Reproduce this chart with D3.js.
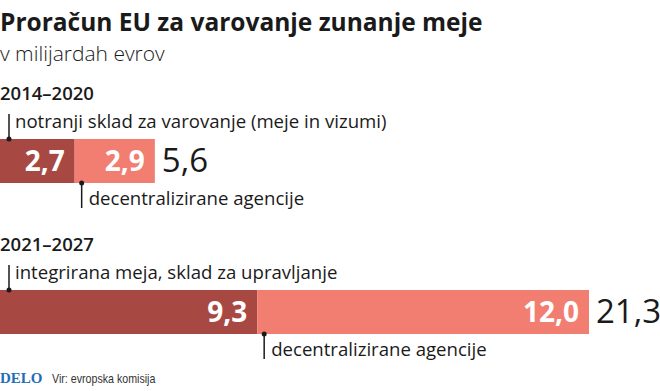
<!DOCTYPE html>
<html>
<head>
<meta charset="utf-8">
<script src="https://cdn.jsdelivr.net/npm/d3@7"></script>
<style>
  body { margin: 0; background: #fff; }
  text { font-family: "Open Sans", sans-serif; fill: #1a1a1a; }
</style>
</head>
<body>
<div class="graph"></div>
<script>
// data
var periods = ["2014–2020", "2021–2027"];
var innerValues = [2.7, 9.3];       // notranji sklad / integrirana meja
var agencyValues = [2.9, 12.0];     // decentralizirane agencije
var totals = [5.6, 21.3];
var innerLabels = ["notranji sklad za varovanje (meje in vizumi)", "integrirana meja, sklad za upravljanje"];
var agencyLabel = "decentralizirane agencije";

var width = 660, height = 391;
var barHeight = 44;

var svg = d3.select("div.graph").append("svg")
    .attr("width", width)
    .attr("height", height);

var x = d3.scaleLinear().domain([0, 21.3]).range([0, 589]);
var y = d3.scalePoint().domain(periods).range([139, 290]);

var fmt = function(v) { return d3.format(".1f")(v).replace(".", ","); };

// title
svg.append("text")
    .attr("x", 0).attr("y", 31)
    .style("font-size", "24.5px").style("font-weight", "700")
    .text("Proračun EU za varovanje zunanje meje");

svg.append("text")
    .attr("x", 0).attr("y", 61)
    .style("font-size", "21px").style("font-weight", "300")
    .text("v milijardah evrov");

var data = periods.map(function(p, i) {
  return {period: p, inner: innerValues[i], agency: agencyValues[i], total: totals[i], label: innerLabels[i]};
});

var g = svg.selectAll("g.period")
    .data(data)
  .enter().append("g")
    .attr("class", "period")
    .attr("transform", function(d) { return "translate(0," + y(d.period) + ")"; });

// period heading
g.append("text")
    .attr("x", 0).attr("y", -39)
    .style("font-size", "18.5px").style("font-weight", "600")
    .text(function(d) { return d.period; });

// bars
g.append("rect")
    .attr("x", x(0))
    .attr("width", function(d) { return x(d.inner) - x(0); })
    .attr("height", barHeight)
    .attr("fill", "#a84843");

g.append("rect")
    .attr("x", function(d) { return x(d.inner); })
    .attr("width", function(d) { return x(d.inner + d.agency) - x(d.inner); })
    .attr("height", barHeight)
    .attr("fill", "#f27e72");

// values inside
g.append("text")
    .attr("x", function(d) { return x(d.inner) - 10; })
    .attr("y", 32)
    .attr("text-anchor", "end")
    .style("font-size", "28px").style("font-weight", "700").style("fill", "#fff")
    .text(function(d) { return fmt(d.inner); });

g.append("text")
    .attr("x", function(d) { return x(d.inner + d.agency) - 10; })
    .attr("y", 32)
    .attr("text-anchor", "end")
    .style("font-size", "28px").style("font-weight", "700").style("fill", "#fff")
    .text(function(d) { return fmt(d.agency); });

// totals
g.append("text")
    .attr("x", function(d) { return x(d.total) + 7; })
    .attr("y", 33)
    .style("font-size", "33px").style("font-weight", "500")
    .text(function(d) { return fmt(d.total); });

// leader: inner fund (above)
g.append("line")
    .attr("x1", x(0) + 9).attr("x2", x(0) + 9)
    .attr("y1", 0).attr("y2", -25)
    .attr("stroke", "#1a1a1a").attr("stroke-width", 1.5);
g.append("circle")
    .attr("cx", x(0) + 9).attr("cy", 0).attr("r", 2.5)
    .attr("fill", "#1a1a1a");
g.append("text")
    .attr("x", x(0) + 15).attr("y", -11)
    .style("font-size", "18.6px")
    .text(function(d) { return d.label; });

// leader: agencies (below)
g.append("line")
    .attr("x1", function(d) { return x(d.inner) + 7; })
    .attr("x2", function(d) { return x(d.inner) + 7; })
    .attr("y1", barHeight).attr("y2", barHeight + 25)
    .attr("stroke", "#1a1a1a").attr("stroke-width", 1.5);
g.append("circle")
    .attr("cx", function(d) { return x(d.inner) + 7; })
    .attr("cy", barHeight).attr("r", 2.5)
    .attr("fill", "#1a1a1a");
g.append("text")
    .attr("x", function(d) { return x(d.inner) + 14; })
    .attr("y", barHeight + 22)
    .style("font-size", "18.6px")
    .text(agencyLabel);

// footer
svg.append("text")
    .attr("x", 0).attr("y", 383)
    .style("font-family", "'Liberation Serif', serif")
    .style("font-size", "15px").style("font-weight", "700").style("fill", "#1f6fb5")
    .text("DELO");

svg.append("text")
    .attr("transform", "translate(52,383) scale(0.82,1)")
    .style("font-family", "'Liberation Sans', sans-serif")
    .style("font-size", "13px").style("fill", "#333")
    .text("Vir: evropska komisija");
</script>
</body>
</html>
